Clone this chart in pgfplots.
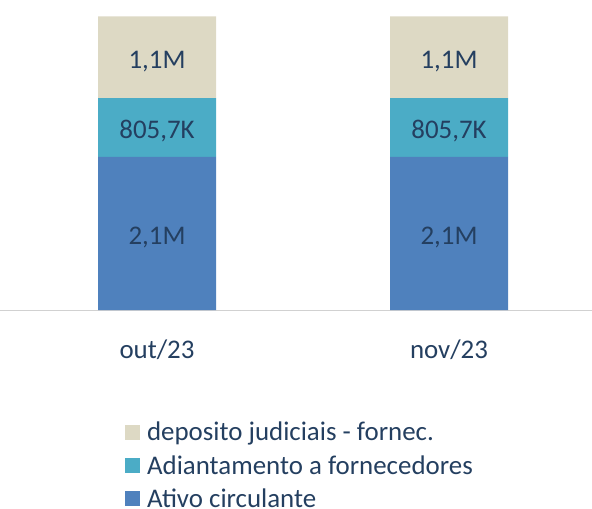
\documentclass[border=0pt]{standalone}
\usepackage{fontspec}
\setmainfont{Carlito}
\usepackage{pgfplots}
\pgfplotsset{compat=1.18}
\definecolor{beigec}{HTML}{DDD9C4}
\definecolor{tealc}{HTML}{4BACC6}
\definecolor{bluec}{HTML}{4F81BD}
\definecolor{txt}{HTML}{243F60}
\begin{document}
\begin{tikzpicture}
\path[use as bounding box] (0,-199bp) rectangle (592bp,310bp);
\begin{axis}[
  at={(0,0)}, anchor=south west,
  scale only axis, width=592bp, height=310bp,
  xmin=-0.5377, xmax=1.4897, ymin=0, ymax=4.25,
  ybar stacked, bar width=118bp,
  axis x line*=bottom, axis y line=none,
  x axis line style={draw=black!18, line width=1pt},
  xtick={0,1}, xticklabels={out/23,nov/23},
  major tick length=0, ytick=\empty,
  xticklabel style={anchor=center, yshift=-40bp},
  tick label style={font=\fontsize{27}{32}\selectfont, text=txt},
  every node near coord/.append style={font=\fontsize{27}{32}\selectfont, text=txt, anchor=center, yshift=-4bp},
  reverse legend,
  legend cell align=left,
  legend style={draw=none, fill=none, font=\fontsize{27}{32}\selectfont, text=txt,
    at={(axis description cs:0.211,-0.355)}, anchor=north west,
    row sep=9bp, inner sep=0pt,
    /tikz/every odd column/.append style={column sep=5bp}},
  legend image code/.code={\fill[#1, draw=none] (0bp,-7.5bp) rectangle (15bp,7.5bp);},
]
\addplot[fill=bluec, draw=none, nodes near coords={2,1M}]
  coordinates {(0,2.1) (1,2.1)};
\addlegendentry{Ativo circulante}
\addplot[fill=tealc, draw=none, nodes near coords={805,7K}]
  coordinates {(0,0.8057) (1,0.8057)};
\addlegendentry{Adiantamento a fornecedores}
\addplot[fill=beigec, draw=none, nodes near coords={1,1M}]
  coordinates {(0,1.12) (1,1.12)};
\addlegendentry{deposito judiciais - fornec.}
\end{axis}
\end{tikzpicture}
\end{document}
